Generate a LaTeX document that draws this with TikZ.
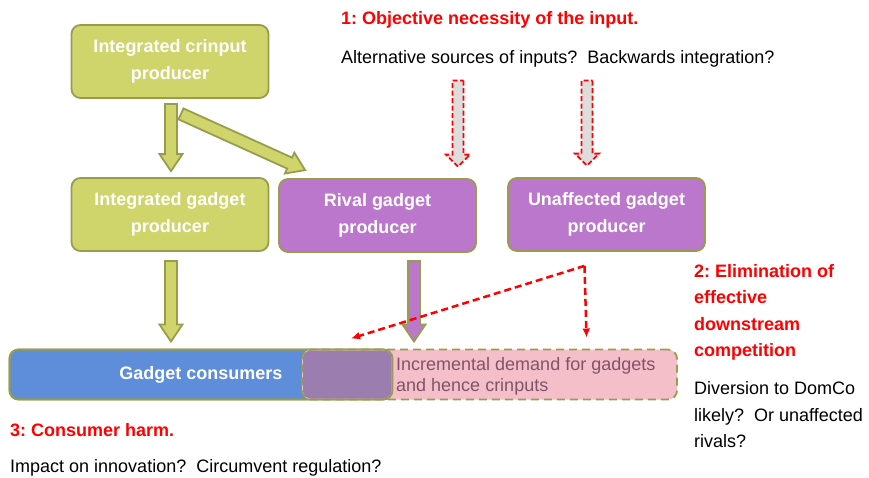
\documentclass[tikz,border=0pt]{standalone}
\usepackage{fontspec}
\setmainfont{Liberation Sans}
\usetikzlibrary{calc,arrows.meta}
\frenchspacing

\definecolor{boxgreen}{RGB}{207,213,106}
\definecolor{boxedge}{RGB}{152,157,78}
\definecolor{boxpurple}{RGB}{187,119,204}
\definecolor{boxblue}{RGB}{94,142,217}
\definecolor{boxpink}{RGB}{244,191,200}
\definecolor{boxmix}{RGB}{155,125,176}
\definecolor{mixtext}{RGB}{128,84,104}
\definecolor{arrowgray}{RGB}{221,221,221}
\definecolor{alertred}{RGB}{255,0,0}

% sizes of the block arrows
\newcommand\fatshaft{6pt}
\newcommand\fatwide{11.5pt}
\newcommand\fathead{17pt}

\tikzset{
  fat arrow/.style={to path={
    ($(\tikztotarget)!\fathead!(\tikztostart)$) coordinate (fatneck)
    ($(\tikztostart)!\fatshaft!90:(\tikztotarget)$)
    -- ($(fatneck)!\fatshaft!90:(\tikztotarget)$)
    -- ($(fatneck)!\fatwide!90:(\tikztotarget)$)
    -- (\tikztotarget)
    -- ($(fatneck)!\fatwide!-90:(\tikztotarget)$)
    -- ($(fatneck)!\fatshaft!-90:(\tikztotarget)$)
    -- ($(\tikztostart)!\fatshaft!-90:(\tikztotarget)$)
    -- cycle}},
  firm/.style={draw=boxedge, line width=1.8pt, rounded corners=9pt,
    minimum width=197pt, minimum height=73pt, text=white, align=center,
    font=\fontsize{18}{27}\selectfont\bfseries},
  market/.style={draw=boxedge, line width=1.8pt, rounded corners=9pt,
    minimum height=50pt, outer sep=0pt},
  flow/.style={draw=boxedge, line width=1.8pt, line join=miter},
  hint/.style={draw=alertred, fill=arrowgray, line width=1.8pt,
    dash pattern=on 5pt off 2.5pt,
    /utils/exec={\def\fatshaft{5.5pt}\def\fatwide{12pt}\def\fathead{12pt}}},
  divert/.style={draw=alertred, line width=2.5pt, dash pattern=on 7pt off 4pt,
    -{Latex[length=9pt,width=8pt]}},
  note/.style={anchor=west, inner sep=0pt, align=left,
    font=\fontsize{18}{26.5}\selectfont},
  alert/.style={note, text=alertred, font=\fontsize{18}{26.5}\selectfont\bfseries}
}

\begin{document}
\begin{tikzpicture}[x=1pt,y=-1pt]
  \useasboundingbox (0,0) rectangle (869,477);

  % Producers
  \node[firm, fill=boxgreen] (crinput) at (170,61.5) {Integrated crinput\\producer};
  \node[firm, fill=boxgreen] (intgadget) at (170,214.5) {Integrated gadget\\producer};
  \node[firm, fill=boxpurple] (rival) at (377.5,215.5) {Rival gadget\\producer};
  \node[firm, fill=boxpurple] (unaffected) at (606.5,214.5) {Unaffected gadget\\producer};

  % Consumers
  \node[market, fill=boxblue, minimum width=383pt] (consumers) at (201,374.5) {};
  \node[market, fill=boxpink, dash pattern=on 8pt off 5pt, minimum width=375pt] (incremental) at (489.5,374.5) {};
  \fill[boxmix, rounded corners=8pt] ($(incremental.north west)+(1,1)$) rectangle ($(consumers.south east)+(-1,-1)$);
  \draw[boxedge, line width=1.8pt, rounded corners=9pt] (consumers.north west) rectangle (consumers.south east);
  \node[text=white, font=\fontsize{18}{22}\selectfont\bfseries] (consumertext) at (consumers) {Gadget consumers};
  \node[note, anchor=north west, text=mixtext, font=\fontsize{18}{21}\selectfont] (incrtext) at (396,357) {Incremental demand for gadgets\\and hence crinputs};

  % Supply arrows
  \draw[flow, fill=boxgreen] ($(crinput.south)+(1,5)$) to[fat arrow] ($(intgadget.north)+(1,-6)$);
  \draw[flow, fill=boxgreen] ($(crinput.south)+(11,15)$) to[fat arrow] ($(rival.north west)+(27,-8)$);
  \draw[flow, fill=boxgreen] ($(intgadget.south)+(1,9)$) to[fat arrow] ($(intgadget.south |- consumers.north)+(1,-8)$);
  \draw[flow, fill=boxpurple] ($(rival.south)+(36.5,8)$) to[fat arrow] ($(rival.south |- consumers.north)+(36.5,-8)$);

  % Question 1
  \node[alert] (necessity) at (341,20) {1: Objective necessity of the input.};
  \node[note] (question) at (341,59) {Alternative sources of inputs?~ Backwards integration?};
  \foreach \tgt/\tx in {rival/458,unaffected/587}
    \draw[hint] ($(question.south -| \tx,0)+(0,13)$) to[fat arrow] ($(\tx,0 |- \tgt.north)+(0,-11.5)$);

  % Question 2
  \coordinate (fork) at ($(unaffected.south)+(-22,14)$);
  \coordinate (toleft) at ($(incremental.north west)+(49,-11)$);
  \coordinate (todown) at ($(fork |- incremental.north)+(2,-12)$);
  \draw[divert] (fork) -- (toleft);
  \draw[divert] (fork) -- (todown);
  \node[alert, anchor=north west] (elimination) at (694,264) {2: Elimination of\\effective\\downstream\\competition};
  \node[note, anchor=north west] (diversion) at (694,381.5) {Diversion to DomCo\\likely?~ Or unaffected\\rivals?};

  % Question 3
  \node[alert] (harm) at (10,430) {3: Consumer harm.};
  \node[note] (impact) at (10,468) {Impact on innovation?~ Circumvent regulation?};
\end{tikzpicture}
\end{document}
